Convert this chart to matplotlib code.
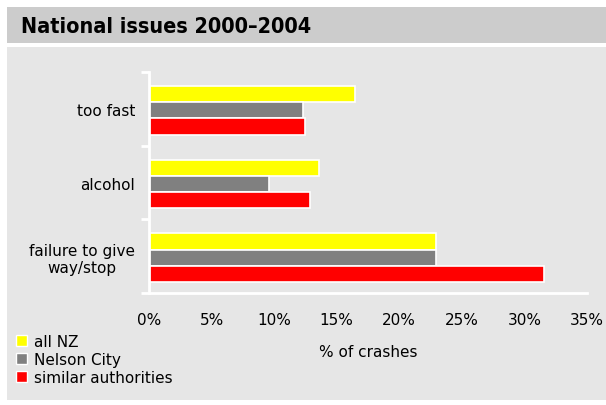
import matplotlib.pyplot as plt
from matplotlib.patches import Rectangle, Patch
from matplotlib.ticker import FuncFormatter

categories = ["too fast", "alcohol", "failure to give\nway/stop"]
series_names = ["all NZ", "Nelson City", "similar authorities"]
all_nz = [16.5, 13.6, 22.9]
nelson = [12.3, 9.6, 22.9]
similar = [12.5, 12.9, 31.6]
colors = ["#ffff00", "#808080", "#ff0000"]

W, H = 606, 406
fig = plt.figure(figsize=(W / 100, H / 100), dpi=100)
fig.patch.set_facecolor("white")

# title band and panel background
fig.patches.append(Rectangle((7 / W, 1 - 44 / H), 1, 36 / H, transform=fig.transFigure,
                             facecolor="#cccccc", edgecolor="none", zorder=-2))
fig.patches.append(Rectangle((7 / W, 1 - 401 / H), 1, (401 - 48) / H, transform=fig.transFigure,
                             facecolor="#e6e6e6", edgecolor="none", zorder=-2))
fig.text(21 / W, 1 - 27 / H, "National issues 2000\u20132004", fontsize=15.5, fontweight="bold",
         fontstretch="condensed", va="center", ha="left")

ax = fig.add_axes([149 / W, 112 / H, (587 - 149) / W, (294 - 73) / H])
ax.set_facecolor("none")
ax.set_zorder(2)

ypos = [2, 1, 0]
h = 0.22
for i, (vals, name) in enumerate(zip([all_nz, nelson, similar], series_names)):
    ys = [y + h - 0.02 - i * h for y in ypos]
    ax.barh(ys, vals, height=h, color=colors[i], edgecolor="white", linewidth=1.2, label=name)

ax.set_xlim(0, 35)
ax.set_ylim(-0.5, 2.5)
ax.set_xticks(range(0, 36, 5))
ax.xaxis.set_major_formatter(FuncFormatter(lambda v, p: f"{v:.0f}%"))
ax.set_yticks(ypos)
ax.set_yticklabels(categories, fontsize=11, ha="right", multialignment="center")
ax.set_yticks([-0.5, 0.5, 1.5, 2.5], minor=True)
ax.tick_params(axis="y", which="major", length=0, pad=10)
ax.tick_params(axis="y", which="minor", length=6, color="white", width=2)
ax.tick_params(axis="x", length=0, labelsize=11, pad=14)
for s in ["top", "right"]:
    ax.spines[s].set_visible(False)
for s in ["left", "bottom"]:
    ax.spines[s].set_color("white")
    ax.spines[s].set_linewidth(2)
ax.set_xlabel("% of crashes", fontsize=11, labelpad=12)

handles = [Patch(facecolor=c, edgecolor="white", linewidth=1) for c in colors]
fig.legend(handles, series_names, loc="upper left", bbox_to_anchor=(16 / W, 1 - 335 / H),
           frameon=False, fontsize=11, handlelength=0.7, handleheight=0.7,
           handletextpad=0.45, labelspacing=0.2, borderaxespad=0, borderpad=0)

fig.savefig("out.png", dpi=100, facecolor="white")
